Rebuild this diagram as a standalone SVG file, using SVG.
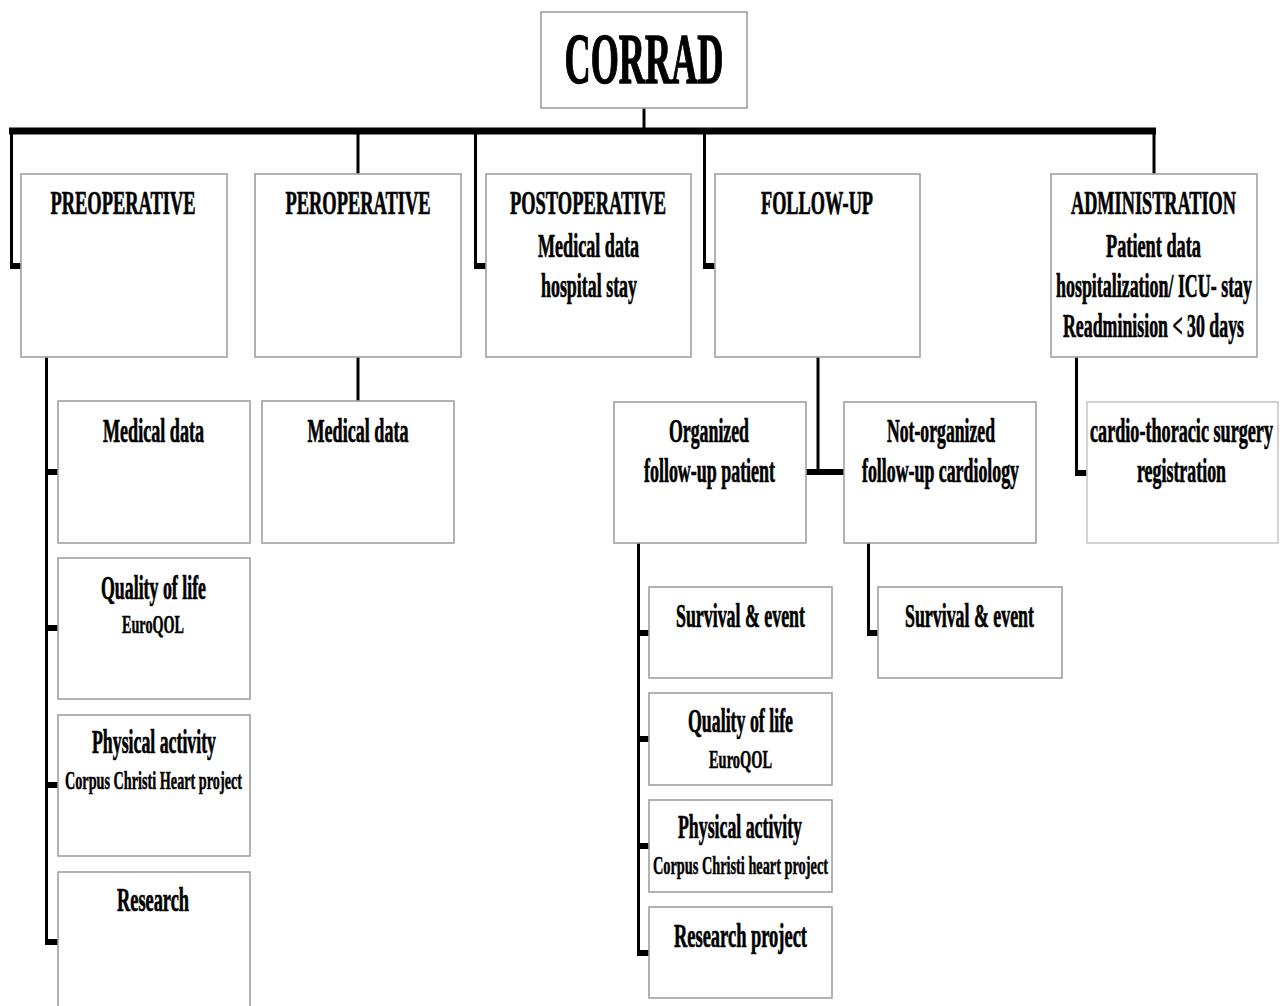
<svg xmlns="http://www.w3.org/2000/svg" width="1284" height="1006" viewBox="0 0 1284 1006">
<style>
.box{fill:#fff;stroke:#a0a0a0;stroke-width:1.6}
.box2{fill:#fff;stroke:#c8c8c8;stroke-width:1.6}
text{font-family:"Liberation Serif","Times New Roman",serif;font-weight:bold;fill:#000;stroke:#000;stroke-width:0.7;text-anchor:middle}
.t{font-size:33px}
.s{font-size:25px;stroke-width:0.5}
.big{font-size:72px;stroke-width:1.4}
.ln{stroke:#000;stroke-width:3;fill:none}
.st{stroke:#000;stroke-width:6;fill:none}
</style>
<rect width="1284" height="1006" fill="#fff"/>
<g id="connectors">
<line class="ln" x1="644" y1="108" x2="644" y2="131"/>
<line x1="9" y1="131" x2="1156" y2="131" stroke="#000" stroke-width="7"/>
<polyline class="ln" points="11.5,131 11.5,266"/>
<line class="st" x1="10" y1="266" x2="21" y2="266"/>
<line class="ln" x1="358" y1="131" x2="358" y2="174"/>
<polyline class="ln" points="475.5,131 475.5,266"/>
<line class="st" x1="474" y1="266" x2="486" y2="266"/>
<polyline class="ln" points="704.5,131 704.5,266"/>
<line class="st" x1="703" y1="266" x2="715" y2="266"/>
<line class="ln" x1="1154" y1="131" x2="1154" y2="174"/>
<line class="ln" x1="46.5" y1="357" x2="46.5" y2="942"/>
<line class="st" x1="45" y1="472" x2="58" y2="472"/>
<line class="st" x1="45" y1="628" x2="58" y2="628"/>
<line class="st" x1="45" y1="785" x2="58" y2="785"/>
<line class="st" x1="45" y1="942" x2="58" y2="942"/>
<line class="ln" x1="358" y1="357" x2="358" y2="401"/>
<line class="ln" x1="818" y1="357" x2="818" y2="472"/>
<line class="st" x1="806" y1="472" x2="844" y2="472"/>
<line class="ln" x1="638.5" y1="543" x2="638.5" y2="953"/>
<line class="st" x1="637" y1="633" x2="649" y2="633"/>
<line class="st" x1="637" y1="739" x2="649" y2="739"/>
<line class="st" x1="637" y1="846" x2="649" y2="846"/>
<line class="st" x1="637" y1="953" x2="649" y2="953"/>
<line class="ln" x1="868.5" y1="543" x2="868.5" y2="633"/>
<line class="st" x1="867" y1="633" x2="878" y2="633"/>
<line class="ln" x1="1076.5" y1="357" x2="1076.5" y2="473"/>
<line class="st" x1="1075" y1="473" x2="1087" y2="473"/>
</g>
<g id="corrad">
<rect class="box" x="541" y="12" width="206" height="96"/>
<text class="big" x="644" y="83" textLength="159" lengthAdjust="spacingAndGlyphs">CORRAD</text>
</g>
<g id="preoperative">
<rect class="box" x="21" y="174" width="206" height="183"/>
<text class="t" x="123" y="214" textLength="145" lengthAdjust="spacingAndGlyphs">PREOPERATIVE</text>
</g>
<g id="peroperative">
<rect class="box" x="255" y="174" width="206" height="183"/>
<text class="t" x="358" y="214" textLength="145" lengthAdjust="spacingAndGlyphs">PEROPERATIVE</text>
</g>
<g id="postoperative">
<rect class="box" x="486" y="174" width="205" height="183"/>
<text class="t" x="588" y="214" textLength="156" lengthAdjust="spacingAndGlyphs">POSTOPERATIVE</text>
<text class="t" x="588.5" y="257" textLength="101" lengthAdjust="spacingAndGlyphs">Medical data</text>
<text class="t" x="589" y="297" textLength="96" lengthAdjust="spacingAndGlyphs">hospital stay</text>
</g>
<g id="followup">
<rect class="box" x="715" y="174" width="205" height="183"/>
<text class="t" x="817" y="214" textLength="112" lengthAdjust="spacingAndGlyphs">FOLLOW-UP</text>
</g>
<g id="administration">
<rect class="box" x="1051" y="174" width="206" height="183"/>
<text class="t" x="1153.5" y="214" textLength="165" lengthAdjust="spacingAndGlyphs">ADMINISTRATION</text>
<text class="t" x="1153.5" y="257" textLength="95" lengthAdjust="spacingAndGlyphs">Patient data</text>
<text class="t" x="1154" y="297" textLength="196" lengthAdjust="spacingAndGlyphs">hospitalization/ ICU- stay</text>
<text class="t" x="1153.5" y="337" textLength="181" lengthAdjust="spacingAndGlyphs">Readminision &lt; 30 days</text>
</g>
<g id="pre-medical">
<rect class="box" x="58" y="401" width="192" height="142"/>
<text class="t" x="153.5" y="442" textLength="101" lengthAdjust="spacingAndGlyphs">Medical data</text>
</g>
<g id="pre-quality">
<rect class="box" x="58" y="558" width="192" height="141"/>
<text class="t" x="153.5" y="599" textLength="105" lengthAdjust="spacingAndGlyphs">Quality of life</text>
<text class="s" x="153" y="633" textLength="62" lengthAdjust="spacingAndGlyphs">EuroQOL</text>
</g>
<g id="pre-physical">
<rect class="box" x="58" y="715" width="192" height="141"/>
<text class="t" x="154" y="753" textLength="124" lengthAdjust="spacingAndGlyphs">Physical activity</text>
<text class="s" x="153.5" y="789" textLength="177" lengthAdjust="spacingAndGlyphs">Corpus Christi Heart project</text>
</g>
<g id="pre-research">
<rect class="box" x="58" y="872" width="192" height="150"/>
<text class="t" x="153" y="911" textLength="72" lengthAdjust="spacingAndGlyphs">Research</text>
</g>
<g id="per-medical">
<rect class="box" x="262" y="401" width="192" height="142"/>
<text class="t" x="358" y="442" textLength="101" lengthAdjust="spacingAndGlyphs">Medical data</text>
</g>
<g id="organized">
<rect class="box" x="614" y="402" width="192" height="141"/>
<text class="t" x="709" y="442" textLength="80" lengthAdjust="spacingAndGlyphs">Organized</text>
<text class="t" x="709.5" y="482" textLength="131" lengthAdjust="spacingAndGlyphs">follow-up patient</text>
</g>
<g id="notorganized">
<rect class="box" x="844" y="402" width="192" height="141"/>
<text class="t" x="941" y="442" textLength="108" lengthAdjust="spacingAndGlyphs">Not-organized</text>
<text class="t" x="940.5" y="482" textLength="157" lengthAdjust="spacingAndGlyphs">follow-up cardiology</text>
</g>
<g id="registration">
<rect class="box2" x="1087" y="402" width="191" height="141"/>
<text class="t" x="1181.5" y="442" textLength="183" lengthAdjust="spacingAndGlyphs">cardio-thoracic surgery</text>
<text class="t" x="1181.5" y="482" textLength="89" lengthAdjust="spacingAndGlyphs">registration</text>
</g>
<g id="fu-survival">
<rect class="box" x="649" y="587" width="183" height="91"/>
<text class="t" x="740.5" y="627" textLength="129" lengthAdjust="spacingAndGlyphs">Survival &amp; event</text>
</g>
<g id="fu-quality">
<rect class="box" x="649" y="693" width="183" height="92"/>
<text class="t" x="740.5" y="732" textLength="105" lengthAdjust="spacingAndGlyphs">Quality of life</text>
<text class="s" x="740.5" y="768" textLength="63" lengthAdjust="spacingAndGlyphs">EuroQOL</text>
</g>
<g id="fu-physical">
<rect class="box" x="649" y="800" width="183" height="92"/>
<text class="t" x="740" y="838" textLength="124" lengthAdjust="spacingAndGlyphs">Physical activity</text>
<text class="s" x="740.5" y="874" textLength="175" lengthAdjust="spacingAndGlyphs">Corpus Christi heart project</text>
</g>
<g id="fu-research">
<rect class="box" x="649" y="907" width="183" height="91"/>
<text class="t" x="740.5" y="947" textLength="133" lengthAdjust="spacingAndGlyphs">Research project</text>
</g>
<g id="nfu-survival">
<rect class="box" x="878" y="587" width="184" height="91"/>
<text class="t" x="969.5" y="627" textLength="129" lengthAdjust="spacingAndGlyphs">Survival &amp; event</text>
</g>
</svg>
